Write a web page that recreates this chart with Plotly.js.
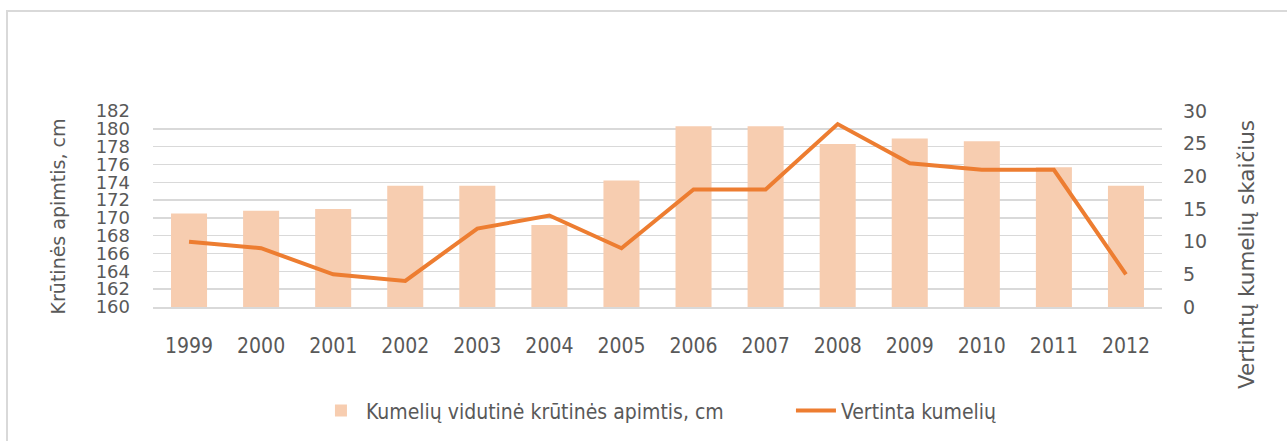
<!DOCTYPE html>
<html>
<head>
<meta charset="utf-8">
<script src="https://cdn.plot.ly/plotly-3.0.1.min.js"></script>
<style>
  html, body { margin: 0; padding: 0; background: #fff; }
  #wrap { position: relative; width: 1287px; height: 441px; overflow: hidden; }
  #chart { position: absolute; left: 0; top: 0; width: 1287px; height: 441px; }
  #frame { position: absolute; left: 6px; top: 10px; width: 1300px; height: 460px;
           border-left: 2px solid #d9d9d9; border-top: 2px solid #d9d9d9; pointer-events: none; }
</style>
</head>
<body>
<div id="wrap">
  <div id="chart"></div>
  <div id="frame"></div>
</div>
<script>
const years = ['1999','2000','2001','2002','2003','2004','2005','2006','2007','2008','2009','2010','2011','2012'];
const chestGirth = [170.5, 170.8, 171.0, 173.6, 173.6, 169.2, 174.2, 180.3, 180.3, 178.3, 178.9, 178.6, 175.7, 173.6];
const evaluatedMares = [10, 9, 5, 4, 12, 14, 9, 18, 18, 28, 22, 21, 21, 5];
const leftTicks = [160,162,164,166,168,170,172,174,176,178,180,182];
const rightTicks = [0,5,10,15,20,25,30];
const leftTitle = 'Krūtinės apimtis, cm';
const rightTitle = 'Vertintų kumelių skaičius';

const gray = '#595959';
const cond = '"DejaVu Sans Condensed", "DejaVu Sans", sans-serif';
const dj = '"DejaVu Sans", sans-serif';

const traces = [
  {
    type: 'bar', x: years, y: chestGirth, name: 'Kumelių vidutinė krūtinės apimtis, cm',
    marker: { color: '#f7cdb0' }, yaxis: 'y'
  },
  {
    type: 'scatter', mode: 'lines', x: years, y: evaluatedMares, name: 'Vertinta kumelių',
    line: { color: '#ed7d31', width: 4 }, yaxis: 'y2'
  }
];

const layout = {
  width: 1287, height: 441,
  margin: { l: 153, r: 125, t: 111, b: 134, autoexpand: false },
  paper_bgcolor: '#fff', plot_bgcolor: '#fff',
  bargap: 0.5,
  showlegend: true,
  legend: {
    orientation: 'h', x: 0.1615, xanchor: 'left', y: -0.53, yanchor: 'middle',
    font: { family: cond, size: 21, color: gray },
    itemwidth: 40, traceorder: 'normal', entrywidth: 420, entrywidthmode: 'pixels'
  },
  xaxis: {
    type: 'category', showgrid: false, showline: true, linecolor: '#d9d9d9', linewidth: 1.5,
    ticks: '', ticklabelstandoff: 19,
    tickfont: { family: cond, size: 21, color: gray }
  },
  yaxis: {
    range: [160, 182], tickvals: leftTicks, ticktext: leftTicks.map(String),
    showgrid: true, gridcolor: '#d9d9d9', gridwidth: 1.5, zeroline: false, showline: false,
    ticks: '', ticklabelstandoff: 22,
    tickfont: { family: dj, size: 18, color: gray }
  },
  yaxis2: {
    overlaying: 'y', side: 'right', range: [0, 30], tickvals: rightTicks, ticktext: rightTicks.map(String),
    showgrid: false, zeroline: false, showline: false, ticks: '', ticklabelstandoff: 20,
    tickfont: { family: dj, size: 19, color: gray }
  },
  annotations: [
    { text: leftTitle, xref: 'paper', yref: 'paper', x: -0.094, y: 0.463,
      xanchor: 'center', yanchor: 'middle', textangle: -90, showarrow: false,
      font: { family: dj, size: 19, color: gray } },
    { text: rightTitle, xref: 'paper', yref: 'paper', x: 1.084, y: 0.269,
      xanchor: 'center', yanchor: 'middle', textangle: -90, showarrow: false,
      font: { family: dj, size: 21.5, color: gray } }
  ]
};

Plotly.newPlot('chart', traces, layout, { displayModeBar: false, staticPlot: true });
</script>
</body>
</html>
